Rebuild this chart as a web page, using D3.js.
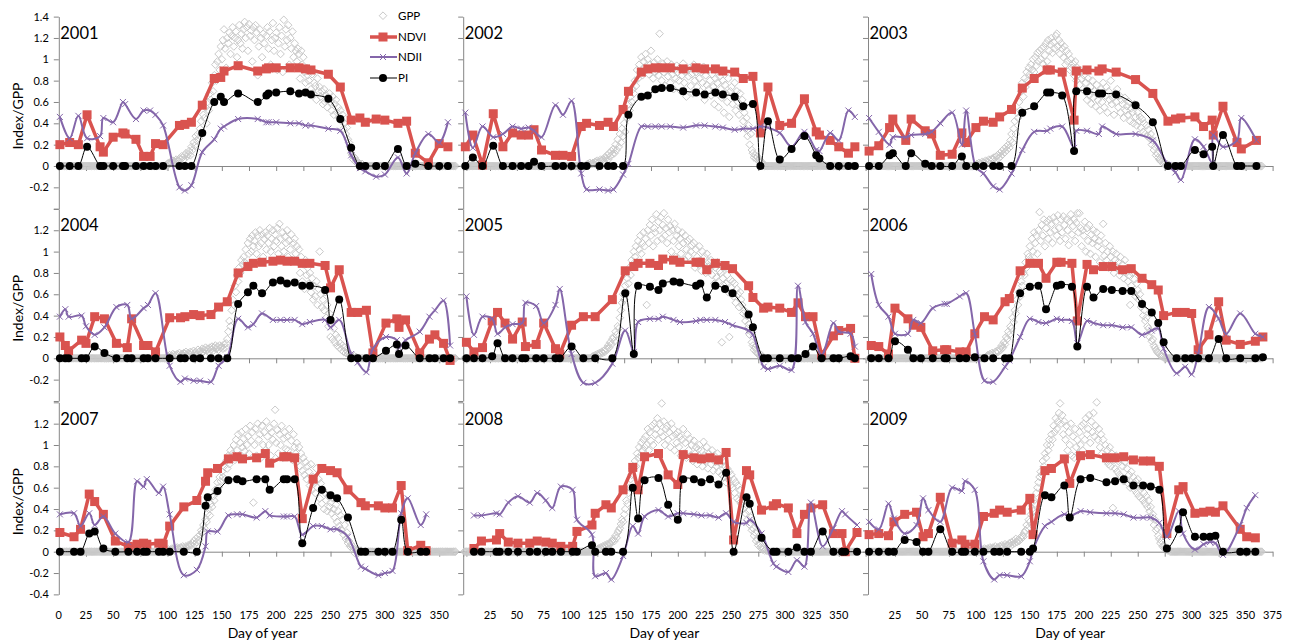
<!DOCTYPE html>
<html lang="en">
<head>
<meta charset="UTF-8">
<title>Index/GPP 2001-2009</title>
<script src="https://d3js.org/d3.v7.min.js"></script>
<style>
  body { margin: 0; background: #fff; }
  svg { display: block; font-family: Lato, "Liberation Sans", sans-serif; }
  .axis path, .axis line { stroke: #868686; }
  .axis text { font-family: Lato, "Liberation Sans", sans-serif; font-size: 11px; fill: #000; }
</style>
</head>
<body>
<svg width="1293" height="643"></svg>
<script>
// ---- data ----
var years = [2001, 2002, 2003, 2004, 2005, 2006, 2007, 2008, 2009];

// observation days (same dates for NDVI, NDII and PI)
var obsDays = [
  [1,10,18,26,38,41,50,59,61,71,78,84,89,96,111,116,122,132,143,149,152,165,183,191,193,200,213,221,227,232,248,259,269,277,282,292,300,312,320,328,340,350,358],
  [2,9,18,28,37,46,54,61,66,73,86,93,101,110,115,127,135,140,149,154,166,172,179,185,193,205,217,225,235,242,253,261,270,277,284,295,306,318,329,332,342,350,359,365],
  [1,10,20,23,35,40,53,59,67,78,87,91,100,107,116,122,133,143,154,166,169,180,191,193,203,214,217,230,248,264,278,285,290,303,311,319,320,329,342,346,360],
  [1,6,9,21,25,33,42,53,63,67,78,82,89,102,112,116,124,130,140,147,155,165,174,179,187,197,204,210,217,224,231,245,250,258,269,275,283,289,301,311,313,319,332,341,346,354,360],
  [3,10,18,27,32,39,46,55,58,68,75,86,90,101,112,123,139,151,159,163,174,182,186,196,202,217,221,227,235,244,251,266,270,280,284,295,306,312,319,326,334,345,350,361,365],
  [3,10,19,25,37,42,49,60,71,73,85,91,99,108,116,127,131,141,150,158,165,175,179,189,194,203,209,218,226,236,244,254,263,269,274,286,294,300,306,316,325,332,345,359,366],
  [1,14,20,28,33,41,52,64,72,78,81,92,96,102,115,127,135,137,146,156,164,169,182,190,194,207,210,217,224,234,242,250,256,266,278,282,294,300,307,315,321,333,338],
  [10,17,31,34,42,51,62,69,77,83,91,102,106,120,123,133,138,149,158,163,169,182,191,200,205,215,222,230,238,245,252,264,267,278,289,292,303,311,318,324,335,345,353,356,367],
  [1,10,19,24,34,45,51,56,67,78,87,90,99,107,117,122,129,142,150,153,164,170,182,187,197,206,221,229,237,246,255,262,270,277,288,292,303,311,317,322,329,345,351,359]
];

var ndvi = [
  [.2,.22,.2,.48,.18,.13,.27,.31,.3,.25,.09,.09,.21,.2,.38,.39,.41,.57,.82,.83,.89,.94,.89,.91,.92,.92,.92,.92,.91,.9,.86,.74,.43,.45,.41,.44,.43,.4,.42,.12,.03,.21,.18],
  [.18,.29,.01,.49,.18,.31,.29,.29,.34,.15,.1,.1,.09,.37,.4,.38,.41,.37,.53,.7,.88,.91,.92,.92,.92,.91,.92,.91,.91,.89,.88,.82,.84,.31,.74,.38,.4,.63,.32,.29,.24,.18,.12,.18],
  [.14,.19,.36,.44,.24,.44,.33,.3,.1,.11,.31,.22,.36,.42,.41,.46,.53,.73,.82,.9,.9,.88,.43,.89,.9,.89,.91,.88,.81,.68,.42,.44,.45,.46,.37,.43,.29,.56,.22,.16,.24],
  [.2,.12,.07,.17,.14,.39,.37,.14,.1,.37,.12,.12,.06,.38,.38,.39,.41,.4,.41,.48,.53,.8,.86,.89,.9,.91,.92,.91,.91,.89,.89,.87,.66,.83,.43,.43,.45,.05,.33,.37,.29,.36,.05,.18,.22,.14,-.02],
  [.15,.06,.1,.35,.43,.33,.18,.34,.11,.13,.33,.09,.04,.31,.39,.39,.55,.82,.86,.89,.89,.87,.93,.92,.9,.9,.9,.83,.89,.87,.84,.68,.57,.47,.48,.47,.43,.52,.39,.39,.03,.21,.26,.28,0],
  [.12,.11,.04,.47,.37,.31,.29,.07,.08,.08,.06,.06,.23,.39,.36,.53,.56,.82,.89,.89,.75,.9,.9,.89,.35,.88,.83,.86,.86,.83,.84,.75,.69,.64,.4,.43,.43,.42,.08,.22,.53,.17,.13,.16,.2],
  [.18,.14,.21,.54,.47,.35,.1,.05,.07,.08,.07,.08,.07,.24,.42,.48,.66,.74,.78,.87,.89,.87,.88,.92,.83,.89,.89,.88,.31,.68,.78,.76,.74,.58,.46,.43,.43,.41,.41,.62,.01,.06,.01],
  [.03,.1,.11,.17,.09,.08,.08,.1,.09,.08,.05,.05,.19,.25,.36,.44,.41,.58,.79,.58,.89,.92,.72,.63,.91,.88,.87,.88,.86,.93,.11,.76,.72,.39,.43,.45,.41,.17,.35,.41,.44,.17,.17,0,.18],
  [.16,.17,.15,.28,.35,.37,.14,.17,.51,.08,.11,.07,.07,.33,.36,.39,.37,.39,.5,.16,.76,.78,.87,.64,.9,.91,.88,.88,.89,.86,.85,.85,.8,.17,.58,.61,.36,.37,.38,.37,.43,.21,.14,.13]
];

var ndii = [
  [.46,.26,.47,.26,.28,.45,.41,.6,.58,.44,.52,.52,.48,.38,-.2,-.23,-.18,.13,.25,.35,.37,.44,.44,.41,.41,.41,.4,.4,.38,.38,.35,.33,.1,-.02,-.05,-.1,-.08,.08,-.07,.12,.3,.22,.41],
  [.5,.17,.37,.27,.3,.37,.35,.36,.33,.27,.57,.48,.61,-.07,-.22,-.22,-.23,-.22,-.08,.02,.37,.37,.37,.37,.37,.36,.38,.38,.37,.36,.34,.35,.35,.37,.36,.31,.18,.32,.15,.14,.31,.24,.52,.46],
  [.45,.32,.2,.27,.27,.29,.3,.32,.4,.5,.2,.52,-.01,-.07,-.19,-.22,-.07,.15,.32,.33,.35,.37,.17,.33,.33,.3,.37,.3,.3,.24,.01,-.06,-.13,.25,.18,.03,.29,.18,.24,.45,.24],
  [.39,.46,.39,.4,.3,.22,.29,.48,.5,.37,.47,.5,.61,-.07,-.22,-.19,-.21,-.21,-.22,-.07,.01,.37,.29,.32,.42,.36,.36,.36,.36,.32,.34,.36,.29,.36,.04,-.04,-.13,.09,.2,.17,.1,.17,.25,.39,.45,.54,.12],
  [.58,.22,.39,.37,.23,.29,.32,.33,.52,.49,.33,.5,.65,.04,-.23,-.23,-.05,.26,.06,.34,.37,.37,.39,.36,.34,.35,.36,.36,.36,.34,.31,.26,.22,-.08,-.1,-.07,-.11,.68,.34,.23,.03,.33,.25,.23,.11],
  [.79,.5,.39,.23,.23,.36,.33,.47,.51,.51,.58,.61,.23,-.21,-.22,-.08,-.02,.2,.37,.34,.33,.37,.36,.35,.14,.35,.33,.31,.31,.29,.29,.22,.26,.28,.09,-.14,-.08,-.15,.04,.48,.37,.23,.42,.23,.2],
  [.35,.36,.24,.36,.25,.33,.17,.09,.66,.61,.68,.55,.61,.35,-.22,-.17,.05,.19,.19,.34,.35,.35,.32,.38,.34,.33,.33,.33,.16,.24,.24,.21,.21,.14,-.14,-.16,-.22,-.2,-.18,.36,.5,.25,.35],
  [.34,.34,.36,.35,.46,.52,.46,.55,.48,.41,.61,.58,.3,.16,-.23,-.2,-.26,-.04,.24,.17,.33,.39,.33,.36,.36,.35,.34,.34,.32,.36,.28,.27,.3,.17,-.11,-.14,-.19,-.08,-.14,.46,.05,.22,.38,.35,.25],
  [.28,.21,.45,.31,.17,.25,.5,.39,.28,.6,.57,.66,.58,-.09,-.26,-.22,-.22,-.23,-.09,.02,.24,.28,.35,.33,.38,.37,.36,.36,.35,.32,.32,.32,.27,.14,.38,.17,.02,.07,.09,.08,-.03,.25,.41,.53]
];

var pi = [
  [0,0,0,.18,0,0,0,0,0,0,0,0,0,0,0,0,0,.31,.6,.65,.6,.68,.6,.66,.68,.69,.7,.68,.69,.67,.63,.44,.17,0,0,0,0,.16,0,.02,0,0,0],
  [0,.08,0,.19,0,0,0,0,.04,0,0,0,0,0,0,0,0,0,0,.48,.65,.66,.72,.73,.73,.7,.69,.67,.69,.67,.65,.56,.58,0,.42,.06,.16,.28,.1,.07,0,0,0,0],
  [0,0,.1,.12,0,.12,.02,0,0,0,.09,0,0,0,0,0,0,.5,.56,.69,.69,.66,.14,.7,.7,.68,.68,.67,.57,.41,0,0,0,.15,.11,.18,0,.29,0,0,0],
  [0,0,0,0,0,.11,.05,0,0,0,0,0,0,0,0,0,0,0,0,0,0,.51,.62,.68,.61,.71,.73,.7,.71,.68,.68,.64,.36,.55,0,0,0,0,.07,.13,.04,.12,0,0,0,0,0],
  [0,0,0,.02,.14,0,0,0,0,0,0,0,0,.11,0,0,0,.61,.04,.68,.67,.64,.7,.72,.71,.68,.7,.57,.68,.65,.61,.41,.29,0,0,0,0,0,.04,.11,0,0,0,.02,0],
  [0,0,0,.16,.08,0,0,0,0,0,0,0,.01,0,0,0,0,.61,.67,.68,.46,.68,.69,.67,.11,.67,.57,.65,.64,.63,.63,.51,.43,.33,.15,0,0,0,0,0,.18,0,0,0,.01],
  [0,0,0,.17,.19,.03,0,0,0,0,0,0,0,0,0,0,.43,.51,.57,.67,.68,.66,.68,.68,.58,.68,.68,.68,.08,.41,.58,.53,.5,.32,0,0,0,0,0,.3,0,0,0],
  [0,0,0,0,0,0,0,0,0,0,0,0,0,.06,0,0,0,0,.6,.31,.67,.69,.44,.3,.68,.68,.65,.68,.63,.74,0,.51,.45,.13,0,0,0,.04,0,0,.19,0,0,0,0],
  [0,0,0,0,.11,.09,0,0,.21,0,0,0,0,0,0,0,0,0,0,.03,.53,.51,.62,.32,.68,.69,.65,.66,.68,.62,.62,.61,.58,.03,.21,.37,.14,.14,.14,.15,0,0,0,0]
];

// daily GPP, listed from gppFirstDay; GPP is 0 on every other day of the year
var gppYearLength = 365;
var gppFirstDay = [100, 115, 100, 100, 120, 110, 100, 125, 105];
var gpp = [
  [.02,.03,.02,.04,.03,.05,.03,.04,.06,.04, .05,.07,.06,.09,.08,.06,.1,.12,.09,.11, .14,.1,.18,.15,.22,.19,.28,.24,.3,.26,
   .35,.42,.31,.48,.45,.55,.4,.6,.52,.68, .62,.78,.7,.85,.95,.8,.98,1.05,.9,1.12, 1,1.18,1.28,1.1,.92,1.2,1.15,1.25,1.05,1.22,
   1.3,1.12,1.2,1.26,1.02,1.18,1.32,1.15,1.24,1.1, 1.28,1.35,1.2,1.3,1.08,1.33,1.22,1.27,.98,1.3, 1.18,1.32,1.25,.85,1.12,1.28,1.2,1.02,1.24,1.15,
   .92,1.22,1.3,1.1,1.26,.95,1.18,1.34,1.08,1.2, 1.25,.9,1.15,1.3,1.05,1.22,.88,1.37,1.12,1.28, 1.18,1.32,.95,1.2,1.1,1.26,1.02,1.15,1.08,.98,
   1.1,1.05,.82,1.08,.95,1.02,.88,.78,.92,.85, .8,.9,.72,.86,.68,.78,.75,.62,.82,.7, .74,.65,.7,.58,.72,.6,.66,.55,.64,.68,
   .6,.52,.65,.48,.58,.62,.5,.55,.45,.52, .42,.48,.35,.4,.3,.36,.25,.22,.18,.12, .1,.06,.08,.04,.05,.02,.03,.02,.01,.02, 0],
  [.01,.02,.01,.03,.02, .02,.03,.02,.04,.03,.05,.03,.04,.06,.05, .06,.04,.08,.07,.1,.06,.12,.09,.14,.11, .16,.12,.2,.15,.25,.18,.3,.22,.35,.28,
   .4,.32,.5,.45,.58,.52,.65,.6,.72,.68, .8,.75,.9,.82,.95,.88,1.02,.85,.98,.92, 1.05,.9,1,.86,.95,1.08,.92,.82,.97,.88,
   .9,1,.85,1.24,.93,.8,.96,.88,.75,.92, .98,.84,.9,.78,.95,.86,.72,.9,.82,.94, .88,.8,.92,.7,.85,.96,.78,.88,.65,.9,
   .84,.92,.75,.86,.68,.95,.8,.88,.74,.9, .82,.7,.88,.78,.93,.62,.85,.76,.9,.72, .8,.66,.86,.74,.58,.82,.7,.78,.55,.84,
   .72,.64,.8,.5,.76,.68,.6,.82,.46,.7, .74,.58,.66,.78,.52,.7,.6,.48,.68,.55, .62,.42,.5,.35,.45,.28,.38,.2,.3,.15,
   .12,.08,.1,.07,.09,.05,.06,.03,.04,.02, .01],
  [.01,.02,.01,.03,.02,.02,.04,.03,.02,.05, .04,.03,.06,.05,.04,.07,.06,.08,.05,.09, .1,.07,.12,.09,.14,.11,.16,.13,.18,.15,
   .2,.17,.24,.3,.22,.35,.42,.3,.5,.45, .6,.52,.7,.78,.65,.82,.74,.88,.8,.92, .86,.95,.9,1,.88,1.02,.94,1.06,.98,1.08,
   1,1.1,.96,1.12,1.04,1.15,.98,1.18,1.08,1.14, 1.2,1.06,1.16,1.1,1.22,1.24,1.12,1.18,1.05,1.15, 1.1,1.02,1.12,.95,1.08,.98,1.05,.9,1,.92,
   .96,.85,.98,.8,.92,.86,.76,.9,.82,.72, .85,.7,.78,.62,.82,.66,.74,.58,.8,.64, .7,.56,.76,.62,.68,.52,.72,.6,.78,.55,
   .66,.74,.5,.7,.62,.8,.58,.64,.48,.68, .6,.72,.55,.66,.5,.62,.58,.45,.64,.52, .56,.48,.6,.42,.54,.5,.4,.58,.46,.38,
   .5,.42,.46,.36,.44,.32,.4,.3,.38,.28, .34,.26,.3,.2,.24,.15,.18,.1,.12,.08, .06,.05,.04,.03,.02,.03,.01,.02,.01,.01, 0],
  [.02,.01,.03,.02,.02,.04,.03,.02,.03,.04, .03,.05,.02,.04,.03,.05,.04,.06,.03,.05, .04,.06,.05,.03,.07,.05,.06,.04,.08,.06,
   .07,.05,.09,.06,.08,.1,.07,.09,.06,.1, .08,.11,.07,.1,.12,.09,.11,.08,.12,.1, .11,.09,.13,.1,.14,.18,.25,.35,.3,.45,
   .55,.5,.68,.62,.78,.72,.85,.8,.92,.88, .95,.9,1.02,.88,1.08,.98,1.12,1,1.15,1.05, 1.1,1.18,.98,1.15,1.05,1.2,1.08,1.16,.95,1.12,
   1.18,1.02,1.15,1.08,1.22,1,1.12,1.2,1.05,1.16, 1.1,1.22,.98,1.26,1.12,1.05,1.18,1,1.14,1.08, 1.2,.95,1.1,1.02,1.16,.92,1.08,1.12,.98,1.05,
   .9,1.02,.8,.95,.72,.88,.65,.92,.78,.85, .7,.8,.62,.75,.55,.68,.58,.72,.5,.65, 1,.6,.48,.55,.45,.62,.38,.5,.3,.42,
   .2,.35,.18,.28,.15,.22,.12,.19,.1,.14, .08,.12,.06,.1,.05,.07,.04,.05,.03,.02, .02,.01,.02,.01,.01,0],
  [.01,.02,.02,.03,.02,.04,.03,.05,.04,.06, .05,.07,.06,.09,.08,.12,.1,.15,.13,.18, .2,.16,.25,.22,.3,.28,.38,.45,.52,.6,
   .55,.68,.62,.75,.7,.85,.78,.92,.88,1, .95,1.05,.9,1.1,1.02,1.15,.98,1.08,1.18,1.05, 1.12,.5,1.2,1.08,1.25,1.15,1.3,1.05,1.22,1.18,
   1.35,1.1,1.28,1.2,1.32,1.12,1.25,1.36,1.15,1.22, 1.08,1.3,1.18,1.24,1,1.2,1.1,1.26,.95,1.15, 1.2,1.05,1.12,.98,1.18,1.08,.92,1.15,1.02,1.1,
   .96,1.12,1,1.06,.9,1.08,.85,1.02,.95,.88, 1.05,.92,.82,1,.88,.95,.8,.98,.86,.9, .84,.92,.78,.88,.7,.85,.76,.9,.72,.82,
   .8,.15,.75,.68,.85,.7,.78,.62,.2,.74, .66,.72,.58,.7,.52,.65,.6,.48,.62,.55, .5,.42,.45,.35,.4,.28,.32,.22,.25,.15,
   .12,.08,.1,.06,.05,.04,.03,.02,.03,.01, 0],
  [.02,.03,.02,.04,.03,.05,.04,.03,.06,.05, .07,.06,.09,.08,.12,.1,.15,.13,.2,.18, .25,.22,.3,.28,.38,.34,.45,.42,.55,.5,
   .62,.58,.72,.68,.8,.78,.9,.85,.98,.95, 1.05,.92,1.12,1,1.18,1.08,1.15,.98,1.2,1.37, 1.1,1.25,1.15,1.3,1.05,1.22,1.28,1.12,1.3,1.18,
   1.26,1.08,1.32,1.2,1.28,1.15,1.34,1.22,1.1,1.3, 1.18,1.33,1.25,1.12,1.3,1.2,1.06,1.28,1.35,1.16, 1.24,1.3,1.1,1.27,1.36,1.18,1.36,1.22,1.05,1.2,
   1.15,1.28,1,1.22,1.1,1.25,.98,1.16,1.08,1.2, 1.12,.95,1.18,1.05,1.1,.9,1.15,1.02,1.26,.96, 1.08,.92,1,.85,1.05,.95,.88,1,.8,.92,
   .98,.85,.9,.78,.95,.82,.88,.75,.92,.8, .84,.72,.78,.5,.68,.8,.62,.74,.58,.7, .64,.55,.6,.48,.52,.4,.45,.35,.38,.3,
   .28,.2,.25,.16,.18,.12,.1,.08,.06,.05, .04,.03,.02,.02,.01,0],
  [.01,.02,.01,.02,.03,.02,.01,.03,.02,.04, .03,.02,.04,.03,.05,.04,.03,.05,.04,.06, .05,.07,.06,.08,.1,.07,.12,.09,.14,.11,
   .16,.2,.18,.25,.22,.3,.28,.36,.4,.34, .45,.42,.52,.48,.58,.55,.65,.6,.7,.66, .75,.7,.8,.68,.85,.78,.9,.82,.95,.88,
   .92,1,.86,1.05,.95,1.1,.9,1.02,1.12,.98, 1.06,.94,1.15,1,1.08,.92,1.18,1.04,1.12,.46, 1,1.15,.9,1.2,1.05,1.1,.88,1.18,1,1.12,
   .95,1.22,1.08,1,1.16,.9,1.12,1.05,1.2,1.33, 1.02,1.14,.92,1.1,1,1.18,.88,1.06,1.12,.96, 1.08,.95,1.15,.9,1.04,.86,1.1,.98,.92,1.02,
   .85,.98,.8,.92,.76,.88,.72,.84,.68,.8, .75,.62,.82,.58,.7,.66,.55,.78,.6,.68, .5,.64,.45,.58,.4,.55,.48,.38,.52,.42,
   .46,.36,.5,.4,.32,.44,.28,.38,.24,.34, .2,.3,.16,.25,.12,.18,.08,.1,.05,.07, .03,.04,-.01,.02,.01,.02,0,.01,.01,0, 0],
  [.02,.03,.02,.04,.03, .05,.04,.06,.05,.07,.06,.08,.07,.09,.1, .12,.1,.15,.13,.18,.2,.22,.26,.3,.28,
   .35,.4,.48,.45,.55,.6,.68,.72,.78,.8, .85,.8,.92,.88,.98,.9,1.02,.95,1.05,.98, 1.08,1,1.15,.95,1.12,1.04,1.18,1,1.2,1.1,
   1.15,1.25,1.05,1.2,1.12,1.39,1.08,1.22,1,1.15, 1.18,1.05,1.12,.98,1.2,1.08,1.15,.95,1.1,1.02, 1.12,.98,1.08,.9,1.05,1.15,.92,1.02,.88,1.1,
   .95,1.06,.9,1,.85,1.04,.92,.98,.82,.96, 1,.88,.95,.8,1.03,.9,.85,.98,.78,.92, .88,.82,.95,.76,.9,.84,.8,.92,.75,.86,
   .82,.72,.85,.7,.8,.65,.78,.68,.75,.62, .72,.6,.68,.55,.65,.5,.62,.48,.58,.45, .52,.4,.48,.36,.44,.3,.38,.25,.32,.2,
   .22,.15,.18,.1,.12,.06,.08,.04,.05,.02, .03,.01,.02,.01,.01,0],
  [.01,.02,.01,.03,.02, .02,.03,.02,.04,.03,.02,.04,.03,.05,.03, .04,.03,.05,.04,.06,.04,.05,.07,.05,.06, .06,.08,.05,.09,.07,.1,.08,.12,.09,.11,
   .1,.13,.12,.15,.14,.18,.2,.25,.22,.3, .28,.35,.4,.38,.48,.45,.55,.6,.65,.7, .75,.72,.85,.8,.92,.88,1,.95,1.05,1,
   1.1,1.05,1.18,1.12,1.25,1.15,1.22,1.3,1.39,1.2, 1.28,1.1,1.22,1.05,1.18,.95,1.12,1,1.2,.9, 1.08,.88,1.15,.98,1.05,.92,1.12,1,1.18,.95,
   1.2,1.05,1.25,1.1,1.15,1.28,1.02,1.22,1.12,1.3, 1.08,1.18,1.4,1.05,1.15,.98,1.1,.92,1.05,.88, 1,.85,.95,.82,.98,.8,.92,.41,.86,.78,
   .9,.75,.85,.72,.88,.7,.8,.66,.84,.68, .78,.64,.72,.6,.75,.62,.7,.58,.66,.55, .68,.52,.62,.5,.6,.48,.55,.45,.52,.42,
   .48,.38,.42,.32,.35,.25,.3,.2,.22,.15, .12,.08,.1,.05,.06,.03,.04,.02,.01,.02, 0]
];

var yTicks = [-0.4, -0.2, 0, 0.2, 0.4, 0.6, 0.8, 1, 1.2, 1.4];
var yTickLabels = [
  [-0.2, 0, 0.2, 0.4, 0.6, 0.8, 1, 1.2, 1.4],
  [-0.2, 0, 0.2, 0.4, 0.6, 0.8, 1, 1.2],
  [-0.4, -0.2, 0, 0.2, 0.4, 0.6, 0.8, 1, 1.2]
];
var xTicks = [0, 25, 50, 75, 100, 125, 150, 175, 200, 225, 250, 275, 300, 325, 350, 375];
var xTickLabels = [
  [0, 25, 50, 75, 100, 125, 150, 175, 200, 225, 250, 275, 300, 325, 350],
  [25, 50, 75, 100, 125, 150, 175, 200, 225, 250, 275, 300, 325, 350],
  [25, 50, 75, 100, 125, 150, 175, 200, 225, 250, 275, 300, 325, 350, 375]
];

// ---- layout ----
var svg = d3.select("svg");
var colLeft = [58.8, 463.2, 868], colRight = [466.4, 865.6, 1272.6];
var rowZero = [166, 358.3, 551.7], unit = 106.7;

var red = "#D9534F", purple = "#8466AA", grey = "#C9C9C9";
var diamond = "M0,-3.8L3.8,0L0,3.8L-3.8,0Z";

function fmt(v) { return String(+v.toFixed(1)); }

years.forEach(function (yr, i) {
  var col = i % 3, row = Math.floor(i / 3);
  var x = d3.scaleLinear().domain([0, 375]).range([colLeft[col], colRight[col]]);
  var y = d3.scaleLinear().domain([-0.4, 1.4]).range([rowZero[row] + 0.4 * unit, rowZero[row] - 1.4 * unit]);
  var g = svg.append("g");

  // axes
  var labels = yTickLabels[row];
  g.append("g")
    .attr("class", "axis")
    .attr("transform", "translate(" + x(0) + ",0)")
    .call(d3.axisLeft(y).tickValues(yTicks).tickSizeInner(5).tickSizeOuter(0).tickPadding(5)
      .tickFormat(function (d) { return col === 0 && labels.indexOf(d) >= 0 ? fmt(d) : ""; }));

  g.append("g")
    .attr("class", "axis")
    .attr("transform", "translate(0," + y(0) + ")")
    .call(d3.axisBottom(x).tickValues(xTicks).tickSizeInner(5).tickSizeOuter(0).tickFormat(""));

  if (row === 2) {
    g.selectAll(".xlab")
      .data(xTickLabels[col])
      .enter().append("text")
      .attr("x", function (d) { return x(d); })
      .attr("y", 619)
      .attr("text-anchor", "middle")
      .style("font-size", "11px")
      .text(function (d) { return d; });

    g.append("text")
      .attr("x", (colLeft[col] + colRight[col]) / 2)
      .attr("y", 638)
      .attr("text-anchor", "middle")
      .style("font-size", "14px")
      .text("Day of year");
  }

  if (col === 0) {
    g.append("text")
      .attr("transform", "translate(23," + (rowZero[row] - 50) + ") rotate(-90)")
      .attr("text-anchor", "middle")
      .style("font-size", "14px")
      .text("Index/GPP");
  }

  g.append("text")
    .attr("x", x(0) + 1.5)
    .attr("y", rowZero[row] - 127)
    .style("font-size", "16.5px")
    .text(yr);

  // GPP, one diamond per day
  var first = gppFirstDay[i], vals = gpp[i];
  var gppPts = d3.range(1, gppYearLength + 1).map(function (d) {
    var k = d - first;
    return [d, (k >= 0 && k < vals.length) ? vals[k] : 0];
  });
  g.append("g").selectAll("path")
    .data(gppPts)
    .enter().append("path")
    .attr("d", diamond)
    .attr("transform", function (d) { return "translate(" + x(d[0]) + "," + y(d[1]) + ")"; })
    .attr("fill", "none")
    .attr("stroke", grey)
    .attr("stroke-width", 1);

  var days = obsDays[i];
  var ndviPts = days.map(function (d, k) { return [d, ndvi[i][k]]; });
  var ndiiPts = days.map(function (d, k) { return [d, ndii[i][k]]; });
  var piPts = days.map(function (d, k) { return [d, pi[i][k]]; });

  var straight = d3.line().x(function (d) { return x(d[0]); }).y(function (d) { return y(d[1]); });
  var smooth = d3.line().x(function (d) { return x(d[0]); }).y(function (d) { return y(d[1]); })
    .curve(d3.curveCatmullRom.alpha(0.5));

  // NDVI
  g.append("path").attr("d", straight(ndviPts))
    .attr("fill", "none").attr("stroke", red).attr("stroke-width", 3.5).attr("stroke-linejoin", "round");
  g.append("g").selectAll("rect")
    .data(ndviPts)
    .enter().append("rect")
    .attr("x", function (d) { return x(d[0]) - 4.5; })
    .attr("y", function (d) { return y(d[1]) - 4.5; })
    .attr("width", 9).attr("height", 9)
    .attr("fill", red);

  // NDII
  g.append("path").attr("d", smooth(ndiiPts))
    .attr("fill", "none").attr("stroke", purple).attr("stroke-width", 2);
  g.append("g").selectAll("path")
    .data(ndiiPts)
    .enter().append("path")
    .attr("d", "M-3,-3L3,3M-3,3L3,-3")
    .attr("transform", function (d) { return "translate(" + x(d[0]) + "," + y(d[1]) + ")"; })
    .attr("stroke", purple).attr("stroke-width", 1);

  // PI
  g.append("path").attr("d", smooth(piPts))
    .attr("fill", "none").attr("stroke", "#000").attr("stroke-width", 1);
  g.append("g").selectAll("circle")
    .data(piPts)
    .enter().append("circle")
    .attr("cx", function (d) { return x(d[0]); })
    .attr("cy", function (d) { return y(d[1]); })
    .attr("r", 4)
    .attr("fill", "#000");
});

// legend (inside the 2001 panel)
var leg = svg.append("g").style("font-size", "11.5px");
leg.append("path").attr("d", diamond).attr("transform", "translate(383,15.7)")
  .attr("fill", "none").attr("stroke", grey);
leg.append("text").attr("x", 398).attr("y", 20).text("GPP");

leg.append("line").attr("x1", 370).attr("x2", 397).attr("y1", 37).attr("y2", 37)
  .attr("stroke", red).attr("stroke-width", 3.5);
leg.append("rect").attr("x", 378.5).attr("y", 32.5).attr("width", 9).attr("height", 9).attr("fill", red);
leg.append("text").attr("x", 398).attr("y", 41).text("NDVI");

leg.append("line").attr("x1", 370).attr("x2", 397).attr("y1", 57).attr("y2", 57)
  .attr("stroke", purple).attr("stroke-width", 2);
leg.append("path").attr("d", "M-3,-3L3,3M-3,3L3,-3").attr("transform", "translate(383,57)")
  .attr("stroke", purple);
leg.append("text").attr("x", 398).attr("y", 61).text("NDII");

leg.append("line").attr("x1", 370).attr("x2", 397).attr("y1", 78).attr("y2", 78)
  .attr("stroke", "#000").attr("stroke-width", 1);
leg.append("circle").attr("cx", 383).attr("cy", 78).attr("r", 4).attr("fill", "#000");
leg.append("text").attr("x", 398).attr("y", 82).text("PI");
</script>
</body>
</html>
